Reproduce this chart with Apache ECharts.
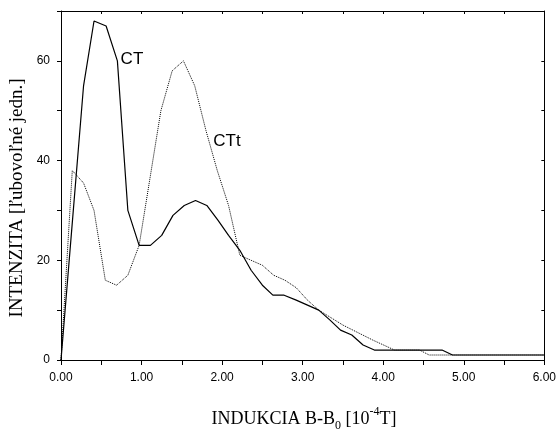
<!DOCTYPE html>
<html>
<head>
<meta charset="utf-8">
<script src="https://cdn.jsdelivr.net/npm/echarts@6/dist/echarts.min.js"></script>
<style>
html,body{margin:0;padding:0;background:#fff;}
#chart{width:559px;height:429px;}
</style>
</head>
<body>
<div id="chart"></div>
<script>
// ---- data ----
const ctX = [0, 0.14, 0.28, 0.41, 0.56, 0.70, 0.83, 0.97, 1.11, 1.25, 1.39, 1.53, 1.67, 1.81, 1.95, 2.08, 2.22, 2.36, 2.50, 2.63, 2.77, 2.92, 3.06, 3.20, 3.34, 3.47, 3.61, 3.75, 3.89, 4.73, 4.86, 6.00];
const ctY = [0, 27.5, 55, 68, 67, 60, 30, 23, 23, 25, 29, 31, 32, 31, 28, 25, 22, 18, 15, 13, 13, 12, 11, 10, 8, 6, 5, 3, 2, 2, 1, 1];
const cttX = [0, 0.14, 0.28, 0.41, 0.55, 0.69, 0.83, 0.97, 1.10, 1.24, 1.38, 1.52, 1.66, 1.80, 1.94, 2.08, 2.22, 2.36, 2.50, 2.64, 2.78, 2.92, 3.06, 3.20, 3.50, 3.87, 4.14, 4.45, 4.57, 6.00];
const cttY = [0, 38, 35.5, 30, 16, 15, 17, 23, 36, 50, 58, 60, 55, 46, 38, 31, 21, 20, 19, 17, 16, 14.5, 12, 10, 7, 4, 2, 2, 1, 1];
const seriesNames = ['CT', 'CTt'];
const labelPosCT = [0.74, 60.4];
const labelPosCTt = [1.89, 43.8];
const xName = 'INDUKCIA B-B{sub|0} [10{sup|-4}T]';
const yName = 'INTENZITA [ľubovoľné jedn.]';

const pair = (xs, ys) => xs.map((x, i) => [x, ys[i]]);
const chart = echarts.init(document.getElementById('chart'));
const black = '#000';
const sans = 'Liberation Sans, Arial, sans-serif';
const serif = 'Liberation Serif, Times New Roman, serif';

chart.setOption({
  animation: false,
  backgroundColor: '#fff',
  grid: {left: 61, right: 14, top: 11, bottom: 69},
  xAxis: [{
    type: 'value', min: 0, max: 6, interval: 0.5, position: 'bottom',
    axisLine: {onZero: false, lineStyle: {color: black, width: 1}},
    axisTick: {inside: false, length: 5, lineStyle: {color: black}},
    axisLabel: {
      margin: 12, color: black, fontSize: 12, fontFamily: sans,
      formatter: v => Math.abs(v - Math.round(v)) < 1e-9 ? v.toFixed(2) : ''
    },
    splitLine: {show: false}
  }, {
    type: 'value', min: 0, max: 6, interval: 0.5, position: 'top',
    axisLine: {show: true, onZero: false, lineStyle: {color: black, width: 1}},
    axisTick: {show: true, inside: true, length: 3, lineStyle: {color: black}},
    axisLabel: {show: false},
    splitLine: {show: false}
  }],
  yAxis: [{
    type: 'value', min: 0, max: 70, interval: 10, position: 'left',
    axisLine: {show: true, onZero: false, lineStyle: {color: black, width: 1}},
    axisTick: {show: true, inside: false, length: 4, lineStyle: {color: black}},
    axisLabel: {
      margin: 11, color: black, fontSize: 12, fontFamily: sans,
      formatter: v => (v % 20 === 0) ? String(v) : ''
    },
    splitLine: {show: false}
  }, {
    type: 'value', min: 0, max: 70, interval: 10, position: 'right',
    axisLine: {show: true, onZero: false, lineStyle: {color: black, width: 1}},
    axisTick: {show: true, inside: true, length: 3, lineStyle: {color: black}},
    axisLabel: {show: false},
    splitLine: {show: false}
  }],
  series: [{
    name: seriesNames[0], type: 'line', data: pair(ctX, ctY),
    showSymbol: false, symbol: 'none',
    lineStyle: {color: black, width: 1.2, type: 'solid'},
    markPoint: {
      symbol: 'circle', symbolSize: 0,
      label: {show: true, position: 'right', distance: 0, formatter: seriesNames[0],
        color: black, fontSize: 17, fontFamily: sans},
      data: [{coord: labelPosCT}]
    }
  }, {
    name: seriesNames[1], type: 'line', data: pair(cttX, cttY),
    showSymbol: false, symbol: 'none',
    lineStyle: {color: black, width: 1, type: 'dotted'},
    markPoint: {
      symbol: 'circle', symbolSize: 0,
      label: {show: true, position: 'right', distance: 0, formatter: seriesNames[1],
        color: black, fontSize: 17, fontFamily: sans},
      data: [{coord: labelPosCTt}]
    }
  }],
  graphic: [{
    type: 'text', x: 17, y: 198, rotation: Math.PI / 2,
    style: {text: yName, font: '19px ' + serif, fill: black, align: 'center', verticalAlign: 'middle'}
  }, {
    type: 'text', x: 304, y: 419,
    style: {
      text: xName, fill: black, align: 'center', verticalAlign: 'middle',
      fontSize: 18, fontFamily: serif,
      rich: {
        sub: {fontSize: 12, fontFamily: serif, fill: black, verticalAlign: 'bottom', padding: [8, 0, 0, 0]},
        sup: {fontSize: 12, fontFamily: serif, fill: black, verticalAlign: 'top', padding: [0, 0, 14, 0]}
      }
    }
  }]
});
</script>
</body>
</html>
